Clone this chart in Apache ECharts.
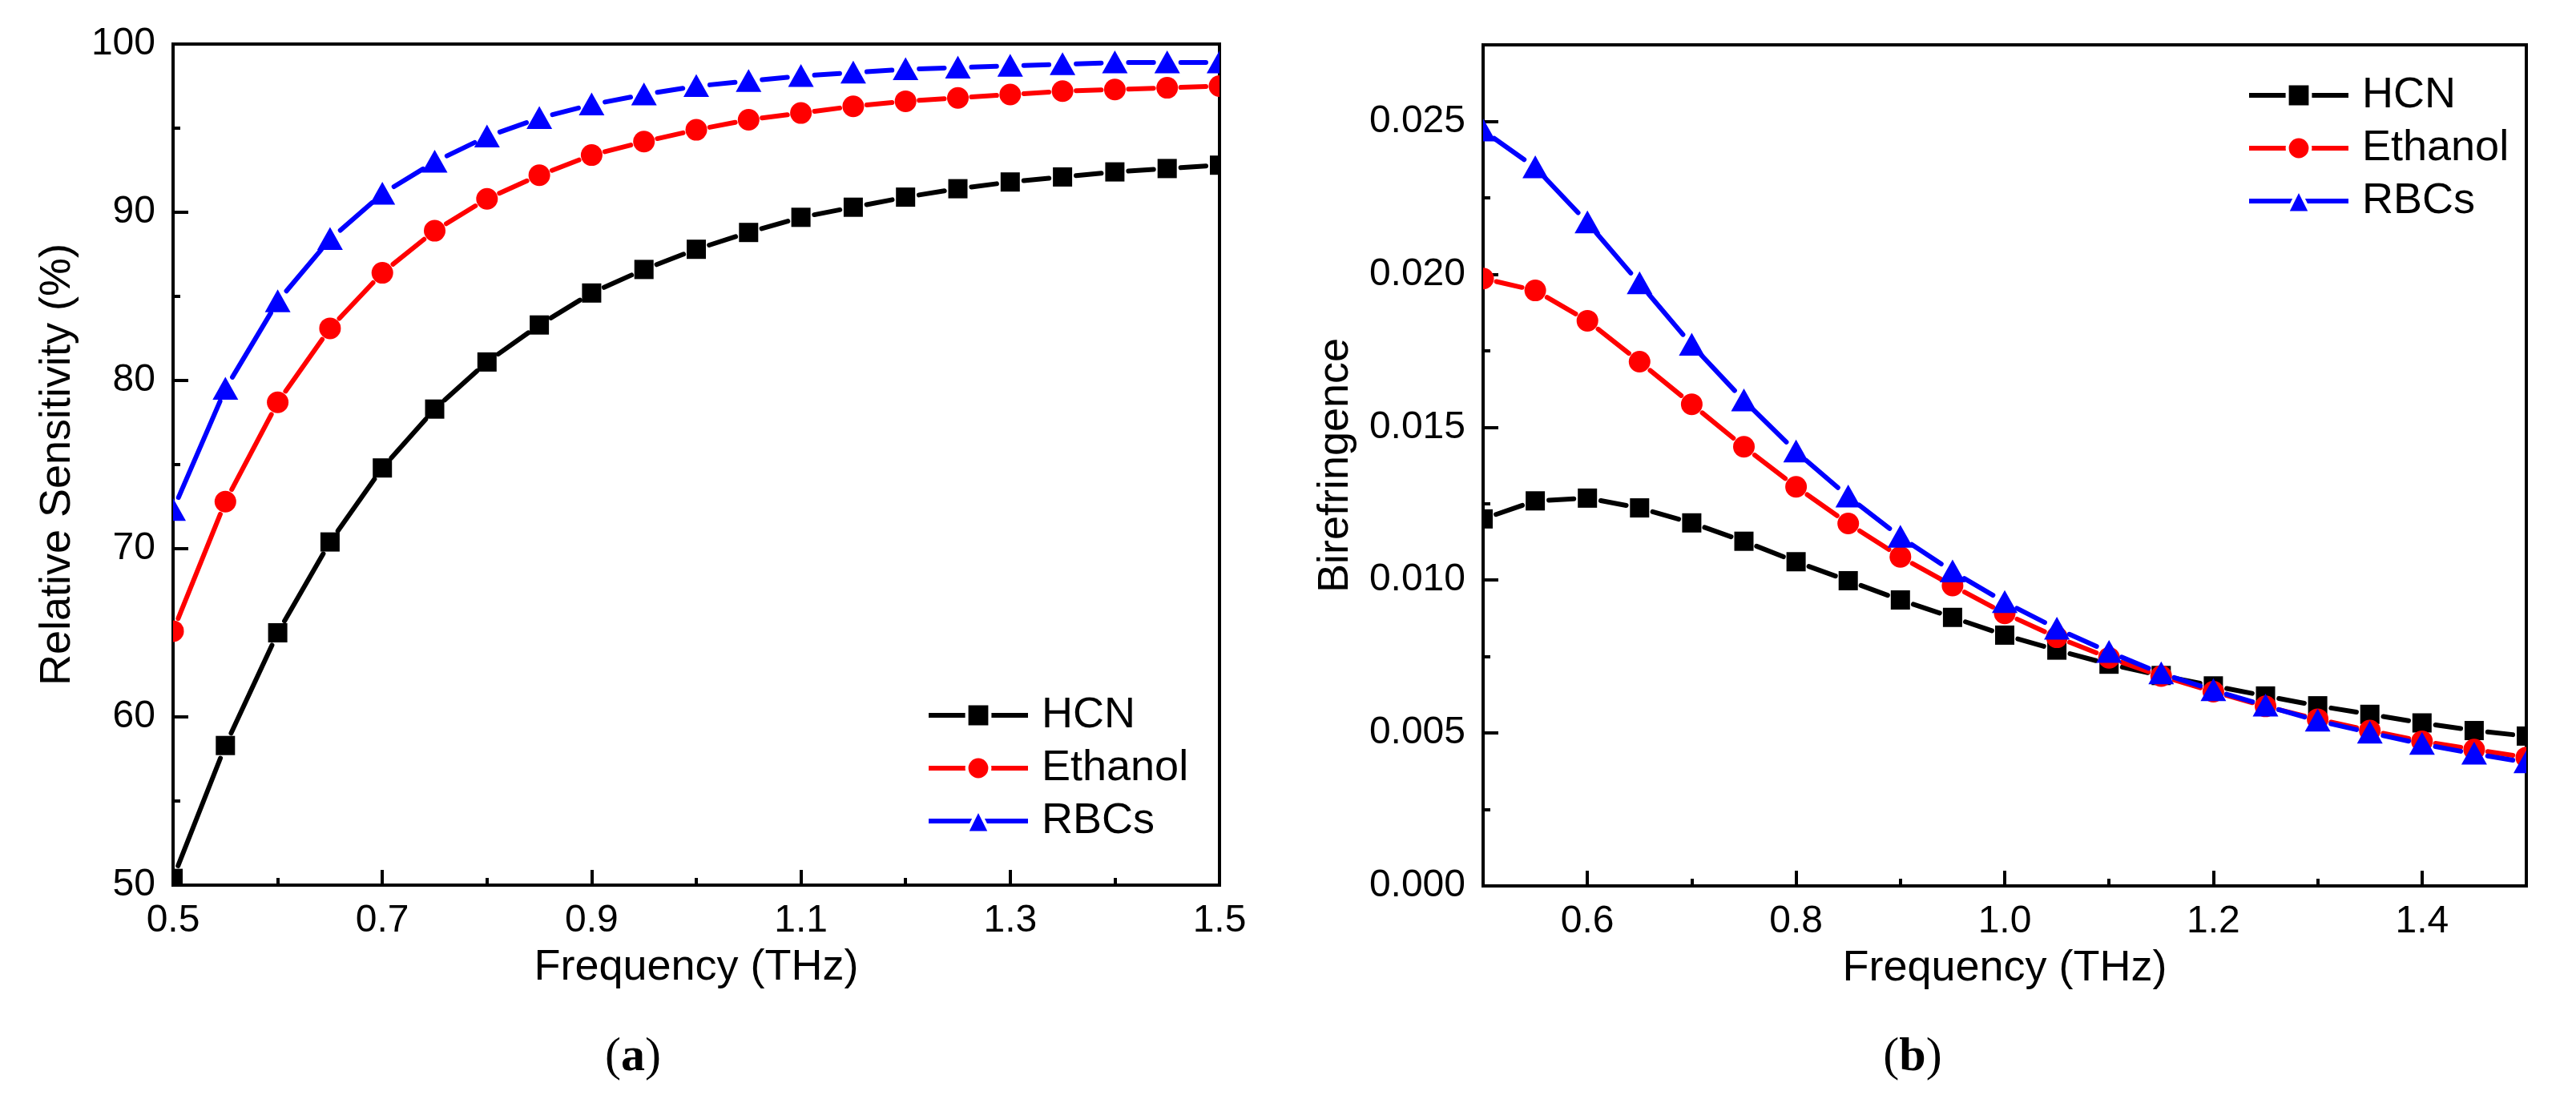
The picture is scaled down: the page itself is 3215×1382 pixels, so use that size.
<!DOCTYPE html>
<html>
<head>
<meta charset="utf-8">
<title>Relative sensitivity and birefringence</title>
<script src="https://cdn.jsdelivr.net/npm/echarts@6/dist/echarts.min.js"></script>
<style>
  html, body { margin: 0; padding: 0; background: #fff; }
  #chart { width: 3215px; height: 1382px; }
</style>
</head>
<body>
<div id="chart"></div>
<script>
// frequency (THz), same for every curve
var freq = [0.5, 0.55, 0.6, 0.65, 0.7, 0.75, 0.8, 0.85, 0.9, 0.95, 1.0,
            1.05, 1.1, 1.15, 1.2, 1.25, 1.3, 1.35, 1.4, 1.45, 1.5];
var names = ['HCN', 'Ethanol', 'RBCs'];

// (a) relative sensitivity (%)
var sensHCN = [50.4, 58.3, 65.0, 70.4, 74.8, 78.3, 81.1, 83.3, 85.2, 86.6, 87.8,
               88.8, 89.7, 90.3, 90.9, 91.4, 91.8, 92.1, 92.4, 92.6, 92.8];
var sensEthanol = [65.1, 72.8, 78.7, 83.1, 86.4, 88.9, 90.8, 92.2, 93.4, 94.2, 94.9,
                   95.5, 95.9, 96.3, 96.6, 96.8, 97.0, 97.2, 97.3, 97.4, 97.5];
var sensRBCs = [72.3, 79.5, 84.7, 88.4, 91.1, 93.0, 94.5, 95.6, 96.4, 97.0, 97.5,
                97.8, 98.1, 98.3, 98.5, 98.6, 98.7, 98.8, 98.9, 98.9, 98.9];

// (b) birefringence
var biHCN = [0.01200, 0.01259, 0.01268, 0.01236, 0.01187, 0.01127, 0.01060, 0.00998, 0.00935, 0.00878, 0.00820,
             0.00771, 0.00725, 0.00688, 0.00654, 0.00621, 0.00589, 0.00561, 0.00533, 0.00508, 0.00490];
var biEthanol = [0.01986, 0.01947, 0.01848, 0.01714, 0.01575, 0.01436, 0.01305, 0.01185, 0.01076, 0.00982, 0.00891,
                 0.00813, 0.00746, 0.00686, 0.00635, 0.00587, 0.00545, 0.00508, 0.00473, 0.00446, 0.00420];
var biRBCs = [0.02470, 0.02349, 0.02169, 0.01970, 0.01769, 0.01587, 0.01420, 0.01273, 0.01141, 0.01028, 0.00928,
              0.00841, 0.00765, 0.00695, 0.00640, 0.00589, 0.00540, 0.00501, 0.00464, 0.00432, 0.00404];

// tick positions
var aXLabels = [0.5, 0.7, 0.9, 1.1, 1.3, 1.5];
var aXMinor = [0.6, 0.8, 1.0, 1.2, 1.4];
var aYLabels = [50, 60, 70, 80, 90, 100];
var aYMinor = [55, 65, 75, 85, 95];
var bXLabels = [0.6, 0.8, 1.0, 1.2, 1.4];
var bXMinor = [0.5, 0.7, 0.9, 1.1, 1.3, 1.5];
var bYLabels = [0, 0.005, 0.01, 0.015, 0.02, 0.025];
var bYMinor = [0.0025, 0.0075, 0.0125, 0.0175, 0.0225, 0.0275];

var colors = ['#000000', '#ff0000', '#0000ff'];
var shapes = ['rect', 'circle', 'triangle'];

var SANS = '"Liberation Sans", Arial, sans-serif';
var SERIF = '"Liberation Serif", "Times New Roman", serif';
var GAP = 17;      // line stops short of each marker (Origin style)
var LINE_W = 6;

function markerEl(shape, x, y, color) {
    if (shape === 'rect') {
        return {type: 'rect', shape: {x: x - 12, y: y - 12, width: 24, height: 24}, style: {fill: color}};
    }
    if (shape === 'circle') {
        return {type: 'circle', shape: {cx: x, cy: y, r: 13.5}, style: {fill: color}};
    }
    return {type: 'polygon', shape: {points: [[x, y - 15], [x + 16, y + 13.5], [x - 16, y + 13.5]]}, style: {fill: color}};
}

function curveSeries(name, xs, ys, k, axisIdx) {
    var pts = [];
    for (var i = 0; i < xs.length; i++) pts.push([xs[i], ys[i]]);
    var color = colors[k], shape = shapes[k];
    var drawn = {
        type: 'custom',
        name: name + ' curve',
        xAxisIndex: axisIdx,
        yAxisIndex: axisIdx,
        clip: true,
        silent: true,
        z: 3,
        data: pts,
        encode: {x: 0, y: 1},
        renderItem: function (params, api) {
            var i = params.dataIndex;
            var p = api.coord([xs[i], ys[i]]);
            var kids = [];
            if (i < xs.length - 1) {
                var q = api.coord([xs[i + 1], ys[i + 1]]);
                var dx = q[0] - p[0], dy = q[1] - p[1];
                var len = Math.sqrt(dx * dx + dy * dy);
                if (len > 2 * GAP) {
                    var ux = dx / len, uy = dy / len;
                    kids.push({
                        type: 'line',
                        shape: {x1: p[0] + ux * GAP, y1: p[1] + uy * GAP, x2: q[0] - ux * GAP, y2: q[1] - uy * GAP},
                        style: {stroke: color, lineWidth: LINE_W, lineCap: 'round'}
                    });
                }
            }
            kids.push(markerEl(shape, p[0], p[1], color));
            return {type: 'group', children: kids};
        }
    };
    // invisible twin that only feeds the legend icon
    var proxy = {
        type: 'line',
        name: name,
        xAxisIndex: axisIdx,
        yAxisIndex: axisIdx,
        data: pts,
        symbol: shape,
        symbolSize: 24,
        silent: true,
        z: 1,
        color: color,
        itemStyle: {color: color, opacity: 0},
        lineStyle: {color: color, width: LINE_W, opacity: 0}
    };
    return [drawn, proxy];
}

function mainX(grid, min, max, labels) {
    return {
        type: 'value', gridIndex: grid, min: min, max: max, position: 'bottom',
        name: 'Frequency (THz)', nameLocation: 'middle', nameGap: 76,
        nameTextStyle: {fontFamily: SANS, fontSize: 54, color: '#000'},
        axisLine: {show: true, onZero: false, lineStyle: {color: '#000', width: 4}},
        axisTick: {show: true, inside: true, length: 19, lineStyle: {color: '#000', width: 4}, customValues: labels},
        axisLabel: {show: true, margin: 21, fontFamily: SANS, fontSize: 48, color: '#000', customValues: labels,
                    formatter: function (v) { return v.toFixed(1); }},
        splitLine: {show: false}
    };
}
function minorAxis(grid, min, max, pos, ticks) {
    return {
        type: 'value', gridIndex: grid, min: min, max: max, position: pos,
        axisLine: {show: false, onZero: false},
        axisTick: {show: true, inside: true, length: 9, lineStyle: {color: '#000', width: 4}, customValues: ticks},
        axisLabel: {show: false},
        splitLine: {show: false}
    };
}
function mainY(grid, min, max, labels, title, gap, digits) {
    return {
        type: 'value', gridIndex: grid, min: min, max: max, position: 'left',
        name: title, nameLocation: 'middle', nameGap: gap,
        nameTextStyle: {fontFamily: SANS, fontSize: 54, color: '#000'},
        axisLine: {show: true, onZero: false, lineStyle: {color: '#000', width: 4}},
        axisTick: {show: true, inside: true, length: 19, lineStyle: {color: '#000', width: 4}, customValues: labels},
        axisLabel: {show: true, margin: 22, fontFamily: SANS, fontSize: 48, color: '#000', customValues: labels,
                    formatter: function (v) { return v.toFixed(digits); }},
        splitLine: {show: false}
    };
}

function legendAt(left, top) {
    return {
        data: names, orient: 'vertical', left: left, top: top, padding: 0,
        itemWidth: 124, itemHeight: 36, itemGap: 12,
        textStyle: {fontFamily: SANS, fontSize: 54, lineHeight: 54, color: '#000', padding: [0, 0, 0, 12]},
        lineStyle: {width: LINE_W, opacity: 1},
        itemStyle: {opacity: 1, borderColor: '#fff', borderWidth: 4},
        selectedMode: false
    };
}

var series = []
    .concat(curveSeries('HCN', freq, sensHCN, 0, 0))
    .concat(curveSeries('Ethanol', freq, sensEthanol, 1, 0))
    .concat(curveSeries('RBCs', freq, sensRBCs, 2, 0))
    .concat(curveSeries('HCN', freq, biHCN, 0, 2))
    .concat(curveSeries('Ethanol', freq, biEthanol, 1, 2))
    .concat(curveSeries('RBCs', freq, biRBCs, 2, 2));

var chart = echarts.init(document.getElementById('chart'));
var option = {
    animation: false,
    backgroundColor: '#fff',
    grid: [
        {left: 216, top: 55, width: 1306, height: 1050, show: true, borderColor: '#000', borderWidth: 4, containLabel: false},
        {left: 1851, top: 56, width: 1302, height: 1050, show: true, borderColor: '#000', borderWidth: 4, containLabel: false}
    ],
    xAxis: [
        mainX(0, 0.5, 1.5, aXLabels),
        minorAxis(0, 0.5, 1.5, 'bottom', aXMinor),
        mainX(1, 0.5, 1.5, bXLabels),
        minorAxis(1, 0.5, 1.5, 'bottom', bXMinor)
    ],
    yAxis: [
        mainY(0, 50, 100, aYLabels, 'Relative Sensitivity (%)', 117, 0),
        minorAxis(0, 50, 100, 'left', aYMinor),
        mainY(1, 0, 0.0275, bYLabels, 'Birefringence', 157, 3),
        minorAxis(1, 0, 0.0275, 'left', bYMinor)
    ],
    legend: [legendAt(1156, 866), legendAt(2804, 92)],
    graphic: [
        {type: 'text', x: 790, y: 1320, style: {text: '({b|a})', fontFamily: SERIF, fontSize: 60, fill: '#000',
            align: 'center', verticalAlign: 'middle',
            rich: {b: {fontFamily: SERIF, fontSize: 60, fontWeight: 'bold', fill: '#000'}}}},
        {type: 'text', x: 2387, y: 1320, style: {text: '({b|b})', fontFamily: SERIF, fontSize: 60, fill: '#000',
            align: 'center', verticalAlign: 'middle',
            rich: {b: {fontFamily: SERIF, fontSize: 60, fontWeight: 'bold', fill: '#000'}}}}
    ],
    series: series
};
chart.setOption(option);
</script>
</body>
</html>
